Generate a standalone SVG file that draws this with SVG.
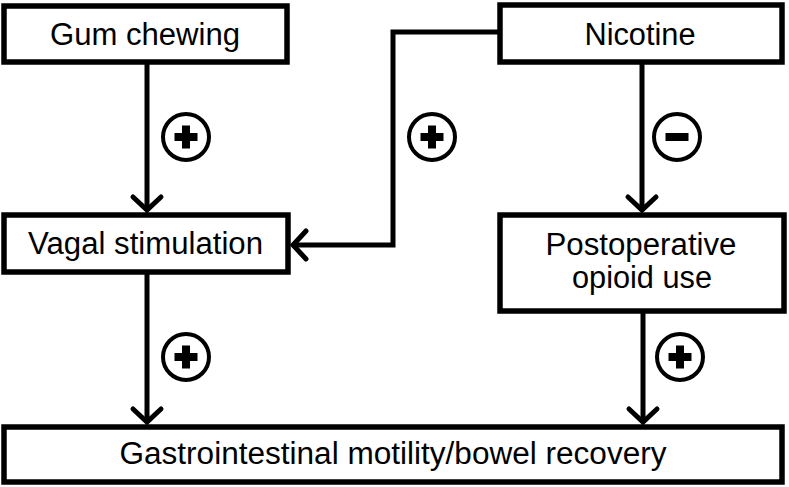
<svg xmlns="http://www.w3.org/2000/svg" width="789" height="487" viewBox="0 0 789 487">
<defs>
<style>
.box{fill:#fff;stroke:#000;stroke-width:5.5}
.lbl{font-family:"Liberation Sans",Arial,sans-serif;font-size:31px;fill:#000;text-anchor:middle}
.con{fill:none;stroke:#000;stroke-width:5}
.ring{fill:#fff;stroke:#000;stroke-width:4}
.bar{fill:#000}
</style>
<marker id="arr" markerUnits="userSpaceOnUse" viewBox="-20 -20 40 40" refX="0" refY="0" markerWidth="40" markerHeight="40" orient="auto">
<path d="M-14,-14 L-1,0 L-14,14" fill="none" stroke="#000" stroke-width="5" stroke-linecap="round" stroke-linejoin="miter"/>
</marker>
<g id="plus-sym"><circle class="ring" r="23"/><rect class="bar" x="-11.5" y="-4" width="23" height="8"/><rect class="bar" x="-4" y="-11.5" width="8" height="23"/></g>
<g id="minus-sym"><circle class="ring" r="23"/><rect class="bar" x="-11.5" y="-4" width="23" height="8"/></g>
</defs>
<rect width="789" height="487" fill="#fff"/>
<g id="connectors">
<path class="con" d="M147,63 V211" marker-end="url(#arr)"/>
<path class="con" d="M498,32 H393 V245 H292" marker-end="url(#arr)"/>
<path class="con" d="M642,63 V211" marker-end="url(#arr)"/>
<path class="con" d="M147,273 V423" marker-end="url(#arr)"/>
<path class="con" d="M643,312 V423" marker-end="url(#arr)"/>
<use href="#plus-sym" x="186" y="137"/>
<use href="#plus-sym" x="432" y="137"/>
<use href="#minus-sym" x="677" y="137"/>
<use href="#plus-sym" x="186" y="357"/>
<use href="#plus-sym" x="680" y="357"/>
</g>
<g id="gum">
<rect class="box" x="4" y="6" width="283" height="56"/>
<text class="lbl" x="145" y="45" textLength="190" lengthAdjust="spacingAndGlyphs">Gum chewing</text>
</g>
<g id="nicotine">
<rect class="box" x="500" y="5" width="282" height="57"/>
<text class="lbl" x="640" y="45" textLength="111" lengthAdjust="spacingAndGlyphs">Nicotine</text>
</g>
<g id="vagal">
<rect class="box" x="4" y="215" width="284" height="57"/>
<text class="lbl" x="145.5" y="254" textLength="235" lengthAdjust="spacingAndGlyphs">Vagal stimulation</text>
</g>
<g id="opioid">
<rect class="box" x="500" y="215" width="284" height="96"/>
<text class="lbl" x="641" y="255" textLength="191" lengthAdjust="spacingAndGlyphs">Postoperative</text>
<text class="lbl" x="642" y="288" textLength="140" lengthAdjust="spacingAndGlyphs">opioid use</text>
</g>
<g id="gi">
<rect class="box" x="4" y="427" width="778" height="55"/>
<text class="lbl" x="393" y="464" textLength="547" lengthAdjust="spacingAndGlyphs">Gastrointestinal motility/bowel recovery</text>
</g>
</svg>
